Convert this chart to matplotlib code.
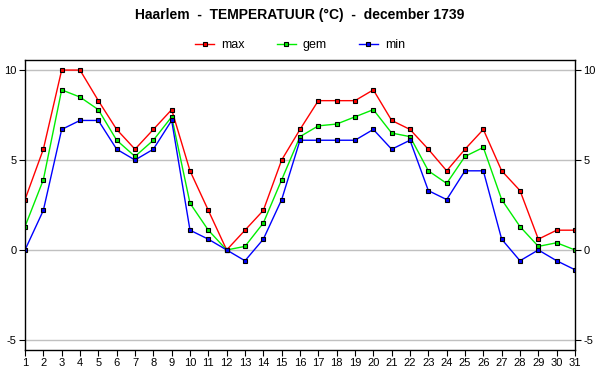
import matplotlib
matplotlib.use("Agg")
import matplotlib.pyplot as plt

plt.rcParams['font.family'] = ['Liberation Sans', 'DejaVu Sans']
plt.rcParams['axes.unicode_minus'] = False

days = list(range(1, 32))
tmax = [2.8, 5.6, 10.0, 10.0, 8.3, 6.7, 5.6, 6.7, 7.8, 4.4, 2.2, 0.0, 1.1, 2.2, 5.0, 6.7,
        8.3, 8.3, 8.3, 8.9, 7.2, 6.7, 5.6, 4.4, 5.6, 6.7, 4.4, 3.3, 0.6, 1.1, 1.1]
tgem = [1.3, 3.9, 8.9, 8.5, 7.8, 6.1, 5.2, 6.1, 7.4, 2.6, 1.1, 0.0, 0.2, 1.5, 3.9, 6.3,
        6.9, 7.0, 7.4, 7.8, 6.5, 6.3, 4.4, 3.7, 5.2, 5.7, 2.8, 1.3, 0.2, 0.4, 0.0]
tmin = [0.0, 2.2, 6.7, 7.2, 7.2, 5.6, 5.0, 5.6, 7.2, 1.1, 0.6, 0.0, -0.6, 0.6, 2.8, 6.1,
        6.1, 6.1, 6.1, 6.7, 5.6, 6.1, 3.3, 2.8, 4.4, 4.4, 0.6, -0.6, 0.0, -0.6, -1.1]
yticks = [-5, 0, 5, 10]
title = "Haarlem  -  TEMPERATUUR (°C)  -  december 1739"

fig = plt.figure(figsize=(6, 3.9), dpi=100)
ax = fig.add_axes([25/600, 1-350/390, 550/600, 290/390])

for vals, col, lab in [(tmax, '#ff0000', 'max'), (tgem, '#00ee00', 'gem'), (tmin, '#0000ff', 'min')]:
    ax.plot(days, vals, color=col, lw=1.0, marker='s', ms=3.5, mfc=col, mec='black', mew=0.8, label=lab)

ax.set_xlim(1, 31)
ax.set_ylim(-5.56, 10.56)
ax.set_xticks(days)
ax.set_yticks(yticks)
ax.yaxis.grid(True, color='#c0c0c0', lw=1)
ax.set_axisbelow(True)
ax.tick_params(axis='both', labelsize=8, direction='out', length=4, width=0.8, pad=2)
ax.tick_params(axis='y', right=True, labelright=True)
for s in ax.spines.values():
    s.set_linewidth(1.0)

fig.text(0.5, 1-15/390, title, ha='center', va='center', fontsize=10, fontweight='bold')
fig.legend(loc='center', bbox_to_anchor=(0.5, 1-45/390), ncol=3, frameon=False, fontsize=9,
           handlelength=1.5, columnspacing=2.6, handletextpad=0.55)

fig.savefig('out.png', dpi=100)
